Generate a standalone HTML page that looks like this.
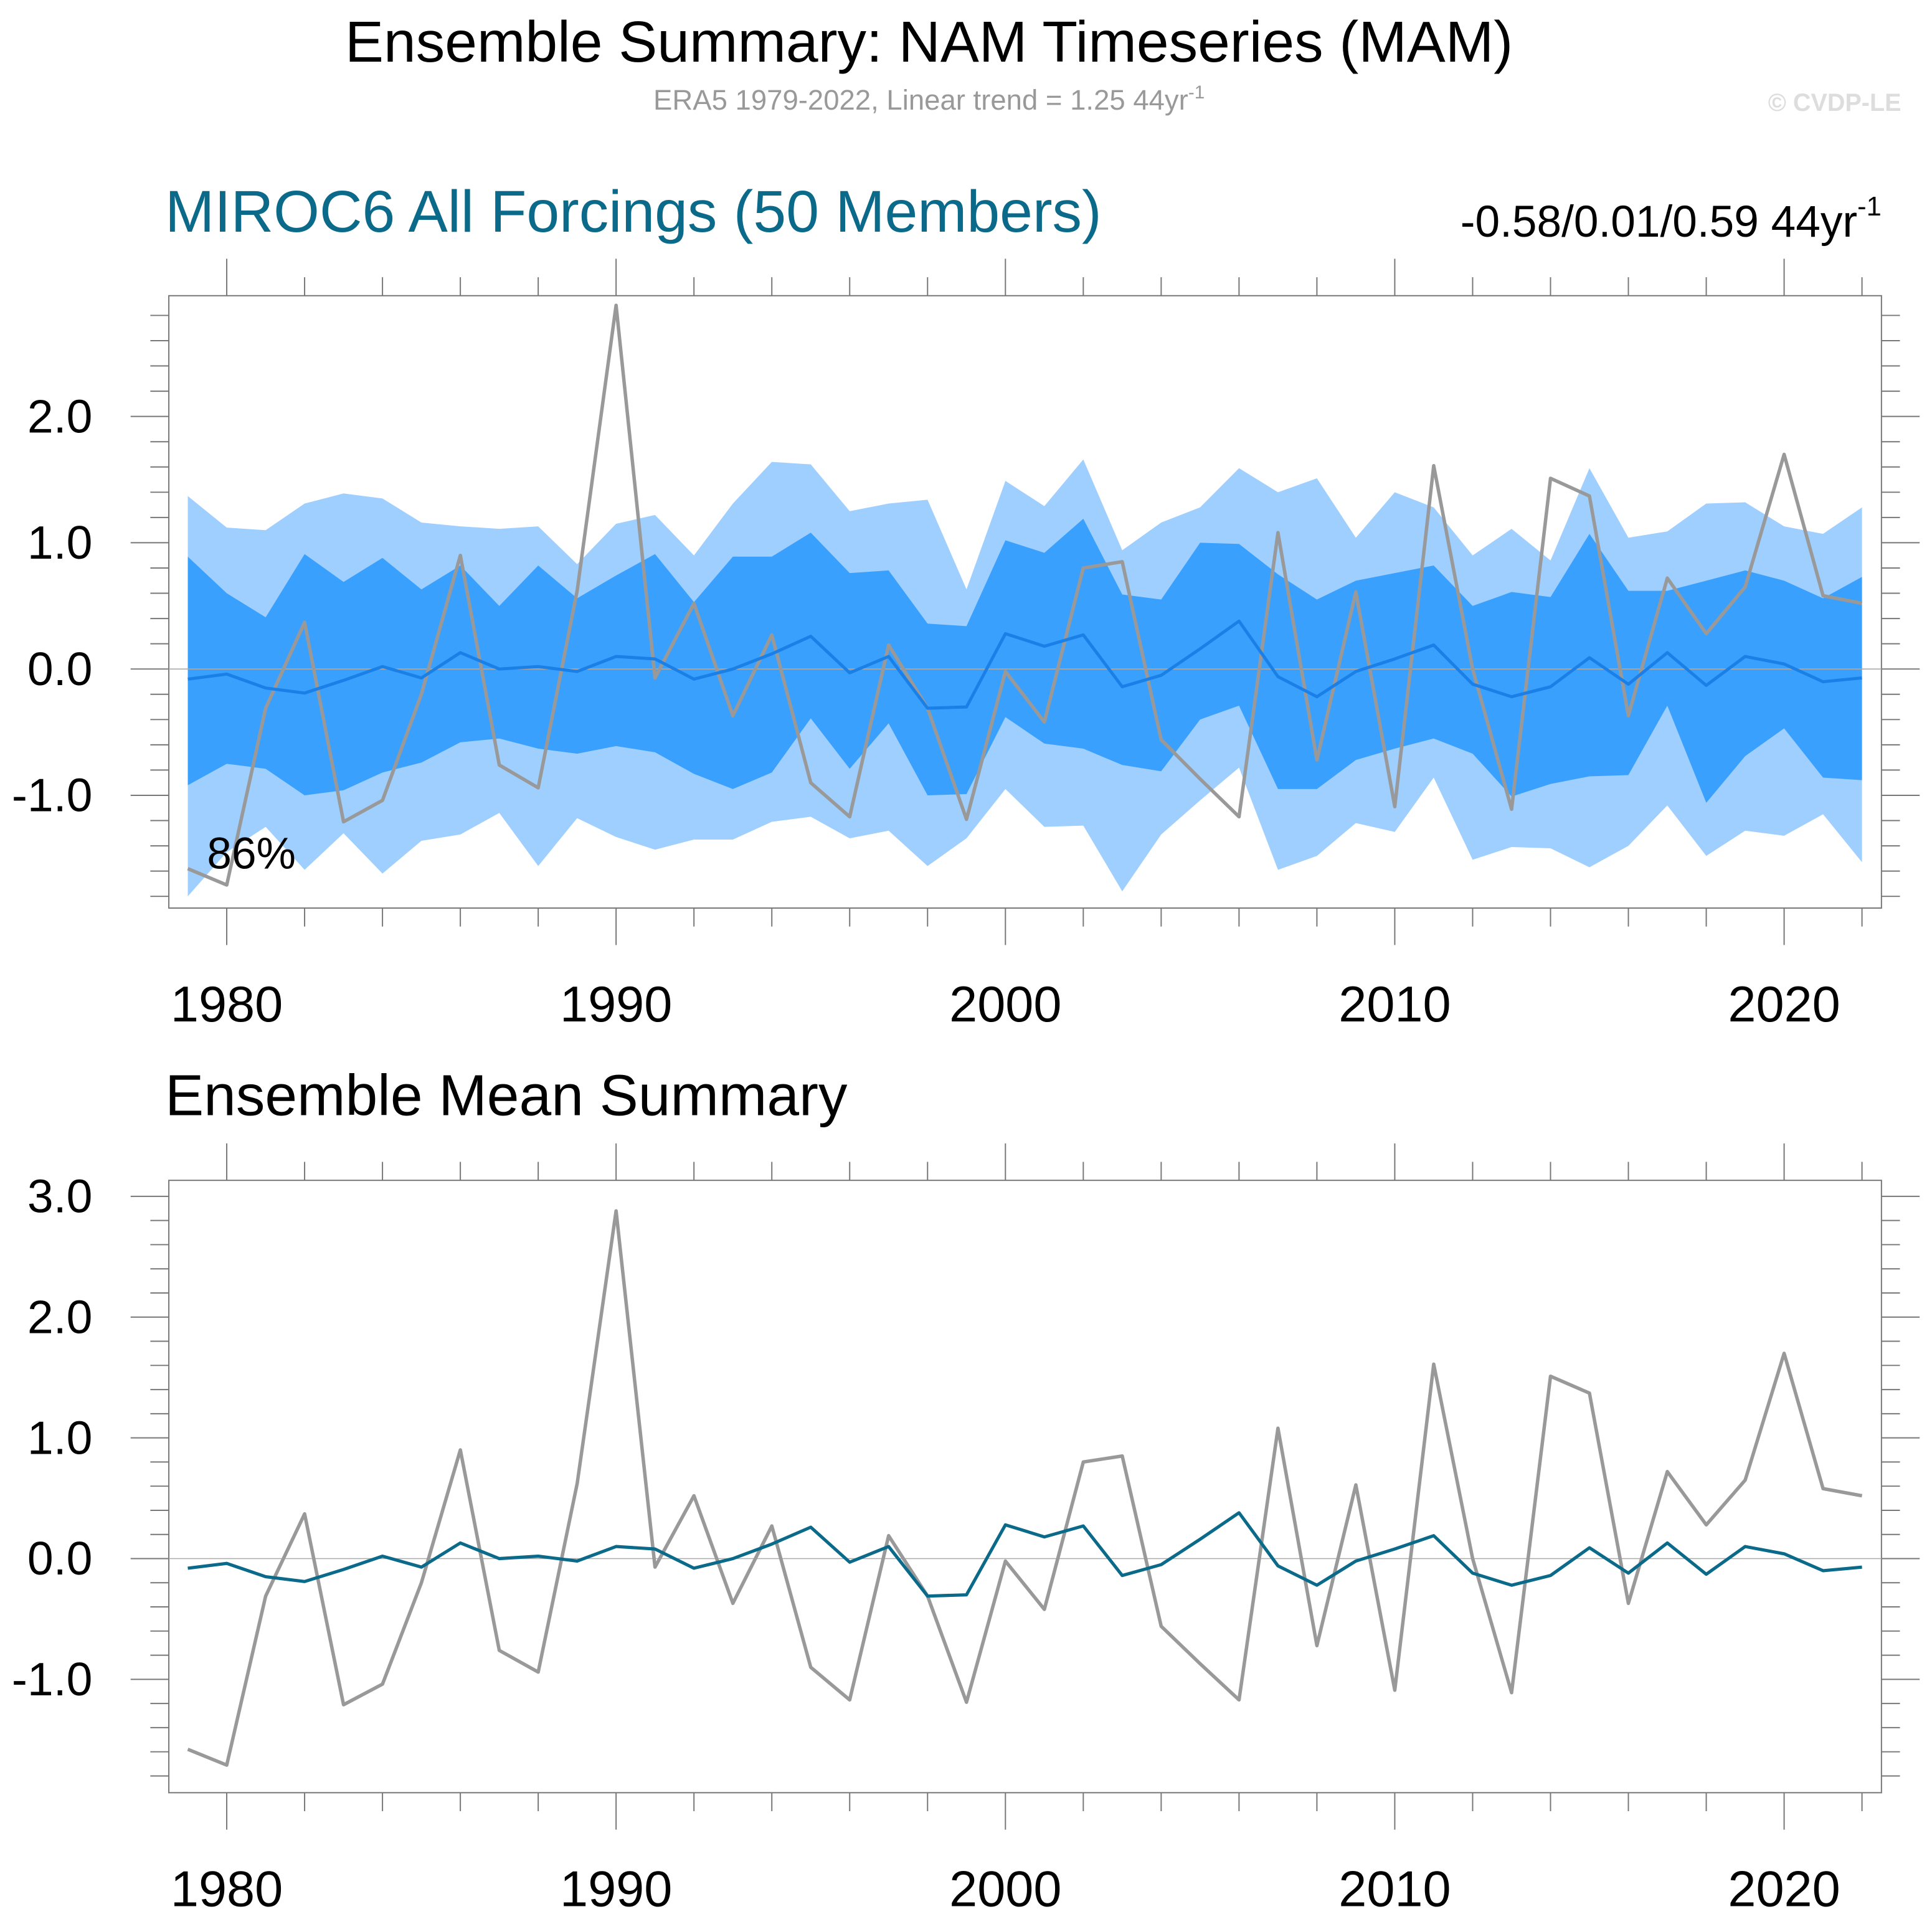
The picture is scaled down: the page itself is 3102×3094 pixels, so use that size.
<!DOCTYPE html>
<html><head><meta charset="utf-8"><style>
html,body{margin:0;padding:0;background:#fff}
svg{display:block}
text{font-family:"Liberation Sans",sans-serif}
</style></head><body>
<svg id="chart" width="3102" height="3094" viewBox="0 0 1568 1564" xmlns="http://www.w3.org/2000/svg">
<text x="754" y="50" font-size="47" text-anchor="middle">Ensemble Summary: NAM Timeseries (MAM)</text>
<text x="754" y="89" font-size="23" fill="#999" text-anchor="middle">ERA5 1979-2022, Linear trend = 1.25 44yr<tspan font-size="15" dy="-9">-1</tspan></text>
<text x="1543" y="90" font-size="20" font-weight="bold" fill="#ddd" text-anchor="end">© CVDP-LE</text>
<text x="134" y="188" font-size="48" fill="#0b6a8a">MIROC6 All Forcings (50 Members)</text>
<text x="1527" y="192" font-size="36" text-anchor="end">-0.58/0.01/0.59 44yr<tspan font-size="22" dy="-17">-1</tspan></text>
<text x="134" y="905" font-size="47">Ensemble Mean Summary</text>
<g id="g"></g>
</svg>
<script>
const years=[];for(let y=1979;y<=2022;y++)years.push(y);
const era5=[-1.58,-1.71,-0.31,0.37,-1.21,-1.04,-0.2,0.9,-0.76,-0.94,0.62,2.88,-0.07,0.52,-0.37,0.27,-0.9,-1.17,0.19,-0.31,-1.19,-0.02,-0.42,0.8,0.85,-0.56,-0.87,-1.17,1.08,-0.72,0.61,-1.09,1.61,0.0,-1.11,1.51,1.37,-0.37,0.72,0.28,0.65,1.7,0.58,0.52];
const ensMean=[-0.08,-0.04,-0.15,-0.19,-0.09,0.02,-0.07,0.13,0.0,0.02,-0.02,0.1,0.08,-0.08,0.0,0.12,0.26,-0.03,0.1,-0.31,-0.3,0.28,0.18,0.27,-0.14,-0.05,0.16,0.38,-0.06,-0.22,-0.02,0.08,0.19,-0.12,-0.22,-0.14,0.09,-0.12,0.13,-0.13,0.1,0.04,-0.1,-0.07];
const lightUpper=[1.37,1.12,1.1,1.31,1.39,1.35,1.16,1.13,1.11,1.13,0.83,1.15,1.22,0.9,1.31,1.64,1.62,1.25,1.31,1.34,0.63,1.49,1.29,1.66,0.94,1.16,1.28,1.59,1.4,1.51,1.04,1.4,1.28,0.9,1.11,0.86,1.59,1.04,1.09,1.31,1.32,1.13,1.07,1.28];
const darkUpper=[0.89,0.6,0.41,0.91,0.69,0.88,0.63,0.82,0.5,0.82,0.56,0.74,0.91,0.53,0.89,0.89,1.08,0.76,0.78,0.36,0.34,1.02,0.92,1.19,0.59,0.55,1.0,0.99,0.75,0.55,0.7,0.76,0.82,0.5,0.61,0.57,1.07,0.62,0.62,0.7,0.78,0.7,0.56,0.73];
const darkLower=[-0.92,-0.75,-0.79,-1.0,-0.96,-0.82,-0.74,-0.58,-0.55,-0.63,-0.67,-0.61,-0.66,-0.83,-0.95,-0.82,-0.39,-0.79,-0.43,-1.0,-0.99,-0.38,-0.59,-0.63,-0.76,-0.81,-0.4,-0.29,-0.95,-0.95,-0.72,-0.63,-0.55,-0.67,-1.01,-0.91,-0.85,-0.84,-0.29,-1.06,-0.69,-0.47,-0.86,-0.88];
const lightLower=[-1.8,-1.45,-1.25,-1.59,-1.3,-1.62,-1.36,-1.31,-1.14,-1.56,-1.18,-1.33,-1.43,-1.35,-1.35,-1.21,-1.17,-1.34,-1.28,-1.56,-1.34,-0.95,-1.25,-1.24,-1.76,-1.31,-1.04,-0.78,-1.59,-1.48,-1.22,-1.29,-0.86,-1.51,-1.41,-1.42,-1.57,-1.4,-1.08,-1.48,-1.28,-1.32,-1.15,-1.53];
const topYTicks=[-1.0,0.0,1.0,2.0];
const botYTicks=[-1.0,0.0,1.0,2.0,3.0];
const xTickYears=[1980,1990,2000,2010,2020];

const NS="http://www.w3.org/2000/svg";
const G=document.getElementById('g');
function mk(tag,attrs,parent){const e=document.createElementNS(NS,tag);for(const k in attrs)e.setAttribute(k,attrs[k]);(parent||G).appendChild(e);return e;}
const X0=137,X1=1527;
const xs=y=>184+(y-1980)*31.6;

function panel(top,bot,vTop,vBot,name){
  const ys=v=>top+(vTop-v)/(vTop-vBot)*(bot-top);
  const grp=mk('g',{});
  
  
  return {ys,grp};
}
function axes(p,top,bot,vTop,vBot,ticks,name){
  const {ys,grp}=p;
  const ax=mk('g',{stroke:'#777','stroke-width':1},grp);
  
  
  for(let v=Math.ceil(vBot*5)/5;v<=vTop+1e-9;v+=0.2){
    const yy=ys(v);const major=Math.abs(v-Math.round(v))<1e-6;
    const L=major?31:15;
    mk('line',{x1:X0-L,x2:X0,y1:yy,y2:yy},ax);
    mk('line',{x1:X1,x2:X1+L,y1:yy,y2:yy},ax);
  }
  for(let y=1980;y<=2022;y+=2){
    const xx=xs(y);const L=(y%10===0)?30:15;
    mk('line',{x1:xx,x2:xx,y1:top-L,y2:top},ax);
    mk('line',{x1:xx,x2:xx,y1:bot,y2:bot+L},ax);
  }
  mk('rect',{x:X0,y:top,width:X1-X0,height:bot-top,fill:'none'},ax);
  mk('line',{x1:X0,x2:X1,y1:ys(0),y2:ys(0),stroke:'#aaa','stroke-width':0.8},grp);
  ticks.forEach(v=>{
    const t=mk('text',{x:75,y:ys(v)+13,'font-size':38,'text-anchor':'end'},grp);
    
    
    t.textContent=v.toFixed(1);
  });
  xTickYears.forEach(y=>{
    const t=mk('text',{x:xs(y),y:bot+92,'font-size':41,'text-anchor':'middle'},grp);
    
    
    t.textContent=y;
  });
}
function line(p,arr,color,w,name){
  const d=arr.map((v,i)=>(i?'L':'M')+xs(years[i]).toFixed(1)+','+p.ys(v).toFixed(1)).join('');
  const e=mk('path',{d,fill:'none',stroke:color,'stroke-width':w,'stroke-linejoin':'round'},p.grp);
  
  
}
function band(p,up,lo,color,name){
  let d=up.map((v,i)=>(i?'L':'M')+xs(years[i]).toFixed(1)+','+p.ys(v).toFixed(1)).join('');
  for(let i=lo.length-1;i>=0;i--)d+='L'+xs(years[i]).toFixed(1)+','+p.ys(lo[i]).toFixed(1);
  const e=mk('path',{d:d+'Z',fill:color},p.grp);
  
  
}
const tTop=240,tBot=737,tV0=(543-240)/102.5,tV1=(543-737)/102.5;
const P1=panel(tTop,tBot,tV0,tV1,'top-panel');
band(P1,lightUpper,lightLower,'#9ecfff','range-band-outer');
band(P1,darkUpper,darkLower,'#3aa0fe','range-band-inner');
axes(P1,tTop,tBot,tV0,tV1,topYTicks,'top-panel');
line(P1,era5,'#999',2.8,'era5-line-top');
line(P1,ensMean,'#1a7fe6',2.5,'ensemble-mean-line-top');
const pct=mk('text',{x:168,y:705,'font-size':36},P1.grp);


pct.textContent='86%';
const bTop=958,bBot=1455,bV0=(1265-958)/98,bV1=(1265-1455)/98;
const P2=panel(bTop,bBot,bV0,bV1,'bottom-panel');
axes(P2,bTop,bBot,bV0,bV1,botYTicks,'bottom-panel');
line(P2,era5,'#999',2.8,'era5-line-bottom');
line(P2,ensMean,'#0b6a8a',2.6,'ensemble-mean-line-bottom');
</script>
</body></html>
